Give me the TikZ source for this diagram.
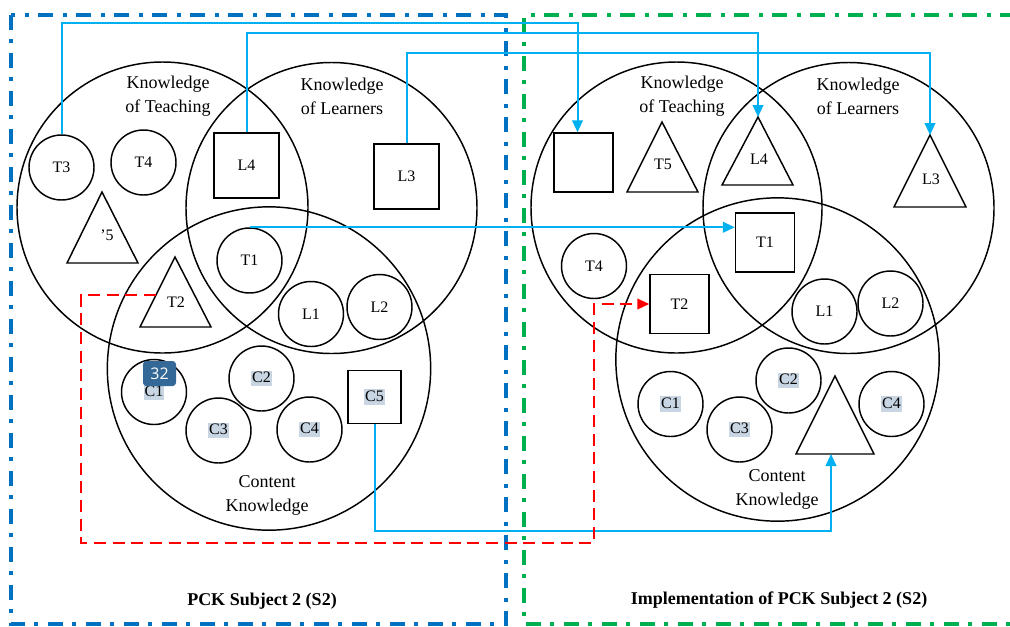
\documentclass[tikz,border=0pt]{standalone}
\usepackage{fontspec}
\setmainfont{Liberation Serif}
\newfontfamily\badgefont{Open Sans}
\usetikzlibrary{arrows.meta,calc}
\definecolor{bordblue}{RGB}{0,112,192}
\definecolor{bordgreen}{RGB}{0,176,80}
\definecolor{conncol}{RGB}{0,176,240}
\definecolor{hlcol}{RGB}{200,213,226}
\definecolor{badgecol}{RGB}{52,104,150}
\newcommand{\hlc}[1]{{\setlength{\fboxsep}{0.6pt}\colorbox{hlcol}{\rule[-2pt]{0pt}{10.5pt}#1}}}
\begin{document}
\begin{tikzpicture}[x=0.75pt,y=-0.75pt,
  shp/.style={draw=black, line width=1.1pt, inner sep=0pt, font=\fontsize{12}{14}\selectfont},
  bigc/.style={shp, circle, minimum size=218.25pt},
  contc/.style={shp, circle, minimum size=242.5pt},
  smallc/.style={shp, circle, minimum size=48.75pt},
  sqa/.style={shp, rectangle, minimum size=48.75pt},
  sqb/.style={shp, rectangle, minimum size=44.25pt},
  tri/.style={draw=black, line width=1.1pt, line join=miter},
  lbl/.style={inner sep=0pt, font=\fontsize{12}{14}\selectfont},
  area/.style={align=center, inner sep=0pt, font=\fontsize{13.5}{18}\selectfont},
  title/.style={inner sep=0pt, font=\bfseries\fontsize{13.5}{16}\selectfont},
  dashdot/.style={line width=3pt, dash pattern=on 11.25pt off 6.75pt on 3pt off 7.5pt},
  conn/.style={draw=conncol, line width=1.5pt, -{Triangle[length=9pt,width=8pt]}},
  redconn/.style={draw=red, line width=1.5pt, dash pattern=on 9pt off 5pt, -{Triangle[length=9pt,width=8pt]}}
]
\useasboundingbox (0,0) rectangle (1010,626);

% panel borders
\draw[bordblue, dashdot] (11,15) rectangle (506,624);
\draw[bordgreen, dashdot] (1015,15) -- (524,15) -- (524,624) -- (1015,624);

% ---------------- left panel ----------------
\node[bigc] (KTa) at (162.5,207.5) {};
\node[bigc] (KLa) at (331.5,208) {};
\node[contc] (CKa) at (269,368.5) {};
\node[area] (KTaT) at (168,96) {Knowledge\\of Teaching};
\node[area] (KLaT) at (342,96) {Knowledge\\of Learners};
\node[area] (CKaT) at (267,495) {Content\\Knowledge};

\node[smallc] (T3a) at (61.5,167.5) {T3};
\node[smallc] (T4a) at (143.5,162.5) {T4};
\node[sqa] (L4a) at (246.5,165.5) {L4};
\node[sqa] (L3a) at (406.5,176.5) {L3};
\node[smallc] (T1a) at (249.5,260.5) {T1};
\node[smallc] (L1a) at (311,314) {L1};
\node[smallc] (L2a) at (379.5,307) {L2};
\node[smallc] (C1a) at (154,392) {\hlc{C1}};
\node[smallc] (C2a) at (261.5,378.5) {\hlc{C2}};
\node[smallc] (C3a) at (218.5,430.5) {\hlc{C3}};
\node[smallc] (C4a) at (309.5,429.5) {\hlc{C4}};
\node[shp, rectangle, minimum size=39.75pt] (C5a) at (374.5,397) {\hlc{C5}};

\draw[tri] (102,192) coordinate (T5aA) -- (138,263) -- (67,263) -- cycle;
\node[lbl] (T5aL) at (107,235) {'5};
\draw[tri] (175,257) coordinate (T2aA) -- (211,327) -- (140,327) -- cycle;
\node[lbl] (T2aL) at (176,302) {T2};
\coordinate (T2aE) at (156,295);

\node[fill=badgecol, text=white, rounded corners=2.5pt, inner sep=0pt,
  minimum width=24.75pt, minimum height=18.75pt,
  font=\badgefont\fontsize{12}{14}\selectfont] (badge) at (159.5,373.5) {32};

% ---------------- right panel ----------------
\node[bigc] (KTb) at (676.5,207.5) {};
\node[bigc] (KLb) at (848.5,208) {};
\node[contc] (CKb) at (777.5,359.5) {};
\node[area] (KTbT) at (682,96) {Knowledge\\of Teaching};
\node[area] (KLbT) at (858,96) {Knowledge\\of Learners};
\node[area] (CKbT) at (777,489) {Content\\Knowledge};

\node[sqb] (SQb) at (583.5,162.5) {};
\draw[tri] (662,122) coordinate (T5bA) -- (698,192) -- (627,192) -- cycle;
\node[lbl] (T5bL) at (663,164) {T5};
\draw[tri] (758,117) coordinate (L4bA) -- (793,185) -- (722,185) -- cycle;
\node[lbl] (L4bL) at (759,159) {L4};
\draw[tri] (930,135) coordinate (L3bA) -- (966,207) -- (894,207) -- cycle;
\node[lbl] (L3bL) at (931,179) {L3};
\node[sqb] (T1b) at (765,242.5) {T1};
\node[smallc] (T4b) at (594,266) {T4};
\node[sqb] (T2b) at (679.5,304) {T2};
\node[smallc] (L1b) at (824.5,311.5) {L1};
\node[smallc] (L2b) at (890.5,303.5) {L2};
\node[smallc] (C1b) at (670.5,404) {\hlc{C1}};
\node[smallc] (C2b) at (788.5,380.5) {\hlc{C2}};
\node[smallc] (C3b) at (739.5,429.5) {\hlc{C3}};
\node[smallc] (C4b) at (891.5,404) {\hlc{C4}};
\draw[tri] (835,376) -- (874,454) -- (796,454) -- cycle;
\coordinate (BTb) at (831,454);

% titles
\node[title] (ta) at (262,601) {PCK Subject 2 (S2)};
\node[title] (tb) at (779,600) {Implementation of PCK Subject 2 (S2)};

% ---------------- connectors ----------------
\coordinate (y1) at (0,23);
\coordinate (y2) at (0,33);
\coordinate (y3) at (0,53);
\coordinate (y5) at (0,531);
\draw[conn] (T3a.north) -- (T3a.north |- y1) -- ($(SQb.north |- y1)+(-6,0)$) -- ($(SQb.north)+(-6,0)$);
\draw[conn] (L4a.north) -- (L4a.north |- y2) -- (L4bA |- y2) -- (L4bA);
\draw[conn] (L3a.north) -- (L3a.north |- y3) -- (L3bA |- y3) -- (L3bA);
\draw[conn] (T1a.north) -- (T1a.north -| T1b.west);
\draw[conn] (C5a.south) -- (C5a.south |- y5) -- (BTb |- y5) -- (BTb);

\coordinate (rd1) at (81,543);
\coordinate (rd2) at (594,543);
\draw[redconn] (T2aE) -- (T2aE -| rd1) -- (rd1) -- (rd2) -- (rd2 |- T2b.west) -- (T2b.west);
\end{tikzpicture}
\end{document}
